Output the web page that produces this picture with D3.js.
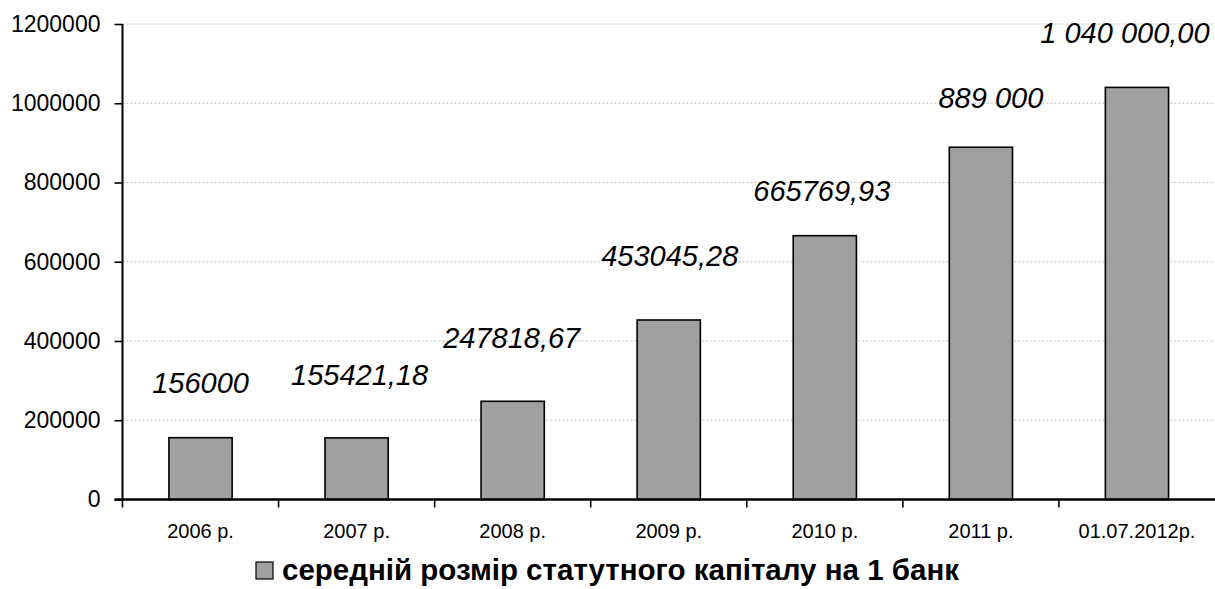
<!DOCTYPE html>
<html>
<head>
<meta charset="utf-8">
<script src="https://cdn.jsdelivr.net/npm/d3@7"></script>
<style>
  html, body { margin: 0; padding: 0; background: #fff; }
  svg { display: block; font-family: "Liberation Sans", Arial, sans-serif; }
</style>
</head>
<body>
<svg id="chart" width="1215" height="589"></svg>
<script>
// Average authorised capital per bank
const categories = ["2006 р.", "2007 р.", "2008 р.", "2009 р.", "2010 р.", "2011 р.", "01.07.2012р."];
const values = [156000, 155421.18, 247818.67, 453045.28, 665769.93, 889000, 1040000];
const valueLabels = ["156000", "155421,18", "247818,67", "453045,28", "665769,93", "889 000", "1 040 000,00"];
const yTicks = [0, 200000, 400000, 600000, 800000, 1000000, 1200000];
const seriesName = "середній розмір статутного капіталу на 1 банк";

// Hand-placed offsets of the value labels from each bar's top centre
const labelOffsets = [[0, -45], [3, -53], [-1, -53], [1, -54], [-3, -35], [10, -39], [-12, -44]];

const svg = d3.select("#chart");
const plotLeft = 122.5, plotRight = 1215, plotTop = 24, plotBottom = 499.5;

const x = d3.scaleBand().domain(categories).range([plotLeft, plotRight]).padding(0);
const y = d3.scaleLinear().domain([0, 1200000]).range([plotBottom, plotTop]);
const barW = x.bandwidth() * 0.405;

// Gridlines
svg.append("g")
  .selectAll("line")
  .data(yTicks.filter(d => d > 0))
  .join("line")
  .attr("x1", plotLeft).attr("x2", 1213)
  .attr("y1", d => y(d)).attr("y2", d => y(d))
  .attr("stroke", "#bdbdbd").attr("stroke-width", 1)
  .attr("stroke-dasharray", "2,2");

// Bars
svg.append("g")
  .selectAll("rect")
  .data(values)
  .join("rect")
  .attr("x", (d, i) => x(categories[i]) + x.bandwidth() / 2 - barW / 2)
  .attr("y", d => y(d))
  .attr("width", barW)
  .attr("height", d => plotBottom - y(d))
  .attr("fill", "#a0a0a0")
  .attr("stroke", "#000").attr("stroke-width", 1.6);

// Y axis
const yAxis = svg.append("g")
  .attr("transform", `translate(${plotLeft},0)`)
  .call(d3.axisLeft(y).tickValues(yTicks).tickFormat(d3.format("d")).tickSize(8).tickPadding(14));
yAxis.select(".domain").attr("stroke", "#000").attr("stroke-width", 2).attr("d", `M0,${plotTop}V${plotBottom}`);
yAxis.selectAll(".tick line").attr("stroke", "#000").attr("stroke-width", 1.6);
yAxis.selectAll(".tick text").attr("font-size", 23).attr("fill", "#000")
  .attr("font-family", "Liberation Sans, Arial, sans-serif");

// X axis: tick marks on category boundaries, labels centred under bars
const xg = svg.append("g");
xg.append("line")
  .attr("x1", plotLeft - 8).attr("x2", plotRight)
  .attr("y1", plotBottom).attr("y2", plotBottom)
  .attr("stroke", "#000").attr("stroke-width", 2.4);
const bounds = categories.map(c => x(c));
xg.selectAll("line.tk")
  .data(bounds)
  .join("line").attr("class", "tk")
  .attr("x1", d => d).attr("x2", d => d)
  .attr("y1", plotBottom).attr("y2", plotBottom + 8)
  .attr("stroke", "#000").attr("stroke-width", 1.6);
xg.selectAll("text")
  .data(categories)
  .join("text")
  .attr("x", d => x(d) + x.bandwidth() / 2)
  .attr("y", 538)
  .attr("text-anchor", "middle")
  .attr("font-size", 20)
  .text(d => d);

// Value labels
svg.append("g")
  .selectAll("text")
  .data(values)
  .join("text")
  .attr("x", (d, i) => x(categories[i]) + x.bandwidth() / 2 + labelOffsets[i][0])
  .attr("y", (d, i) => y(d) + labelOffsets[i][1])
  .attr("text-anchor", "middle")
  .attr("font-size", 29)
  .attr("font-style", "italic")
  .text((d, i) => valueLabels[i]);

// Legend
const lg = svg.append("g");
lg.append("rect")
  .attr("x", 256).attr("y", 562).attr("width", 17).attr("height", 17)
  .attr("fill", "#a0a0a0").attr("stroke", "#000").attr("stroke-width", 1.2);
lg.append("text")
  .attr("x", 282).attr("y", 580)
  .attr("font-size", 29.5).attr("font-weight", "bold")
  .text(seriesName);
</script>
</body>
</html>
